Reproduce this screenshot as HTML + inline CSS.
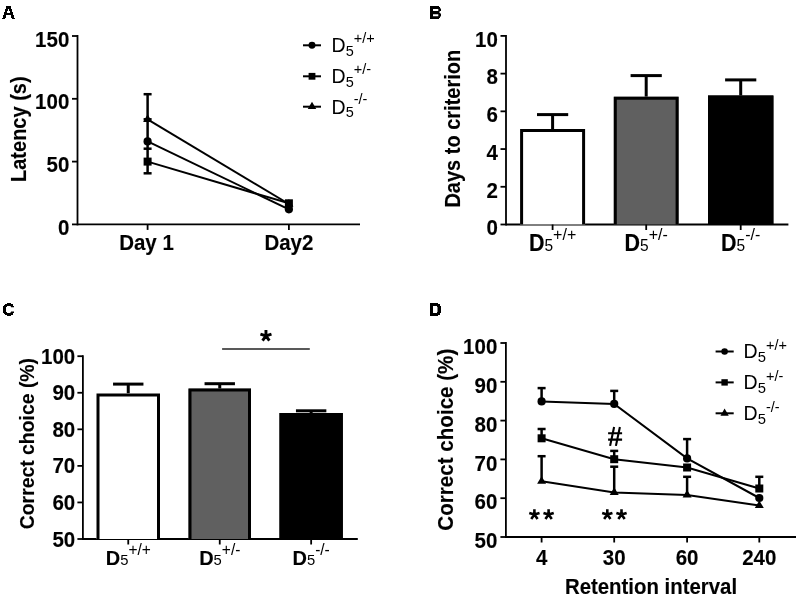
<!DOCTYPE html><html><head><meta charset="utf-8"><style>html,body{margin:0;padding:0;background:#fff;width:800px;height:597px;overflow:hidden}svg{display:block;will-change:transform}</style></head><body>
<svg width="800" height="597" viewBox="0 0 800 597">
<path fill="#000" fill-rule="evenodd" transform="translate(2,6)" d="M4,0H9V3H10V6H11V9H12V12H13V13H10V12H9V9H4V12H3V13H0V12H1V9H2V6H3V3H4Z M6,3H7V5H8V7H5V5H6Z"/>
<path fill="#000" fill-rule="evenodd" transform="translate(430,6)" d="M0,0H9V1H10V2.5H11V5H10V5.5H9.3V6.8H10V7.5H11V10.5H10V12H9V13H0Z M3,3H8.3V5H3Z M3,8.3H8.3V10.3H3Z"/>
<path fill="#000" fill-rule="evenodd" transform="translate(3,303)" d="M4,0H8V1H10V3H11V4.3H8V3.3H7V3H4V4H3V9H4V10H7V9.6H8V8.6H11V10H10V12H8V13H4V12H2V11H1V10H0V3H1V2H2V1H4Z"/>
<path fill="#000" fill-rule="evenodd" transform="translate(430,303)" d="M0,0H8V1H10V3H11V10H10V12H8V13H0Z M3,3H7V4H7.5V9H7V10H3Z"/>
<line x1="77.50" y1="35.00" x2="77.50" y2="225.40" stroke="#000" stroke-width="1.8"/>
<line x1="72.00" y1="224.40" x2="77.50" y2="224.40" stroke="#000" stroke-width="1.8"/>
<text transform="translate(69.30,235.00) scale(1,1.07)" font-family="Liberation Sans" font-weight="bold" font-size="20.5" text-anchor="end" stroke="#000" stroke-width="0.12">0</text>
<line x1="72.00" y1="161.60" x2="77.50" y2="161.60" stroke="#000" stroke-width="1.8"/>
<text transform="translate(69.30,172.20) scale(1,1.07)" font-family="Liberation Sans" font-weight="bold" font-size="20.5" text-anchor="end" stroke="#000" stroke-width="0.12">50</text>
<line x1="72.00" y1="98.80" x2="77.50" y2="98.80" stroke="#000" stroke-width="1.8"/>
<text transform="translate(69.30,109.40) scale(1,1.07)" font-family="Liberation Sans" font-weight="bold" font-size="20.5" text-anchor="end" stroke="#000" stroke-width="0.12">100</text>
<line x1="72.00" y1="36.00" x2="77.50" y2="36.00" stroke="#000" stroke-width="1.8"/>
<text transform="translate(69.30,46.60) scale(1,1.07)" font-family="Liberation Sans" font-weight="bold" font-size="20.5" text-anchor="end" stroke="#000" stroke-width="0.12">150</text>
<line x1="77.50" y1="224.40" x2="360.00" y2="224.40" stroke="#000" stroke-width="1.8"/>
<line x1="147.60" y1="224.40" x2="147.60" y2="229.90" stroke="#000" stroke-width="1.8"/>
<line x1="288.90" y1="224.40" x2="288.90" y2="229.90" stroke="#000" stroke-width="1.8"/>
<text transform="translate(146.50,250.40) scale(1,1.07)" font-family="Liberation Sans" font-weight="bold" font-size="20.5" text-anchor="middle" stroke="#000" stroke-width="0.12">Day 1</text>
<text transform="translate(288.90,250.40) scale(1,1.07)" font-family="Liberation Sans" font-weight="bold" font-size="20.5" text-anchor="middle" stroke="#000" stroke-width="0.12">Day2</text>
<text transform="translate(26.00,129.20) rotate(-90) scale(1,1.07)" font-family="Liberation Sans" font-weight="bold" font-size="20" text-anchor="middle" stroke="#000" stroke-width="0.12">Latency (s)</text>
<line x1="147.60" y1="119.40" x2="288.90" y2="204.00" stroke="#000" stroke-width="2"/>
<line x1="147.60" y1="141.40" x2="288.90" y2="209.30" stroke="#000" stroke-width="2"/>
<line x1="147.60" y1="161.60" x2="288.90" y2="203.30" stroke="#000" stroke-width="2"/>
<line x1="147.60" y1="94.20" x2="147.60" y2="173.30" stroke="#000" stroke-width="2.5"/>
<line x1="143.60" y1="94.20" x2="151.60" y2="94.20" stroke="#000" stroke-width="2.5"/>
<line x1="143.60" y1="148.70" x2="151.60" y2="148.70" stroke="#000" stroke-width="2.5"/>
<line x1="143.60" y1="173.30" x2="151.60" y2="173.30" stroke="#000" stroke-width="2.5"/>
<line x1="143.60" y1="119.30" x2="151.60" y2="119.30" stroke="#000" stroke-width="2.5"/>
<polygon points="143.10,121.95 152.10,121.95 147.60,114.30" fill="#000"/>
<polygon points="284.40,206.55 293.40,206.55 288.90,198.90" fill="#000"/>
<circle cx="147.60" cy="141.40" r="4.1" fill="#000"/>
<circle cx="288.90" cy="209.30" r="4.1" fill="#000"/>
<rect x="143.60" y="157.60" width="8.0" height="8.0" fill="#000"/>
<rect x="284.90" y="199.30" width="8.0" height="8.0" fill="#000"/>
<line x1="303.00" y1="45.30" x2="321.00" y2="45.30" stroke="#000" stroke-width="2"/>
<circle cx="312.00" cy="45.30" r="3.4849999999999994" fill="#000"/>
<text transform="translate(331.60,52.10) scale(1,1.02)" font-family="Liberation Sans" font-size="19.5">D<tspan font-weight="normal" stroke-width="0" font-size="14.5" dy="3.4">5</tspan><tspan font-weight="normal" stroke-width="0" font-size="14.5" dy="-12.4">+/+</tspan></text>
<line x1="303.00" y1="76.30" x2="321.00" y2="76.30" stroke="#000" stroke-width="2"/>
<rect x="308.60" y="72.90" width="6.8" height="6.8" fill="#000"/>
<text transform="translate(331.60,83.10) scale(1,1.02)" font-family="Liberation Sans" font-size="19.5">D<tspan font-weight="normal" stroke-width="0" font-size="14.5" dy="3.4">5</tspan><tspan font-weight="normal" stroke-width="0" font-size="14.5" dy="-12.4">+/-</tspan></text>
<line x1="303.00" y1="106.70" x2="321.00" y2="106.70" stroke="#000" stroke-width="2"/>
<polygon points="307.73,109.12 316.27,109.12 312.00,101.86" fill="#000"/>
<text transform="translate(331.60,113.50) scale(1,1.02)" font-family="Liberation Sans" font-size="19.5">D<tspan font-weight="normal" stroke-width="0" font-size="14.5" dy="3.4">5</tspan><tspan font-weight="normal" stroke-width="0" font-size="14.5" dy="-12.4">-/-</tspan></text>
<line x1="506.00" y1="34.90" x2="506.00" y2="225.50" stroke="#000" stroke-width="1.8"/>
<line x1="500.50" y1="224.50" x2="506.00" y2="224.50" stroke="#000" stroke-width="1.8"/>
<text transform="translate(497.80,235.30) scale(1,1.07)" font-family="Liberation Sans" font-weight="bold" font-size="20.5" text-anchor="end" stroke="#000" stroke-width="0.12">0</text>
<line x1="500.50" y1="186.78" x2="506.00" y2="186.78" stroke="#000" stroke-width="1.8"/>
<text transform="translate(497.80,197.58) scale(1,1.07)" font-family="Liberation Sans" font-weight="bold" font-size="20.5" text-anchor="end" stroke="#000" stroke-width="0.12">2</text>
<line x1="500.50" y1="149.06" x2="506.00" y2="149.06" stroke="#000" stroke-width="1.8"/>
<text transform="translate(497.80,159.86) scale(1,1.07)" font-family="Liberation Sans" font-weight="bold" font-size="20.5" text-anchor="end" stroke="#000" stroke-width="0.12">4</text>
<line x1="500.50" y1="111.34" x2="506.00" y2="111.34" stroke="#000" stroke-width="1.8"/>
<text transform="translate(497.80,122.14) scale(1,1.07)" font-family="Liberation Sans" font-weight="bold" font-size="20.5" text-anchor="end" stroke="#000" stroke-width="0.12">6</text>
<line x1="500.50" y1="73.62" x2="506.00" y2="73.62" stroke="#000" stroke-width="1.8"/>
<text transform="translate(497.80,84.42) scale(1,1.07)" font-family="Liberation Sans" font-weight="bold" font-size="20.5" text-anchor="end" stroke="#000" stroke-width="0.12">8</text>
<line x1="500.50" y1="35.90" x2="506.00" y2="35.90" stroke="#000" stroke-width="1.8"/>
<text transform="translate(497.80,46.70) scale(1,1.07)" font-family="Liberation Sans" font-weight="bold" font-size="20.5" text-anchor="end" stroke="#000" stroke-width="0.12">10</text>
<line x1="506.00" y1="224.50" x2="788.40" y2="224.50" stroke="#000" stroke-width="1.8"/>
<line x1="552.60" y1="114.60" x2="552.60" y2="129.00" stroke="#000" stroke-width="3"/>
<line x1="537.00" y1="114.60" x2="568.20" y2="114.60" stroke="#000" stroke-width="3"/>
<rect x="520.10" y="129.00" width="65.00" height="95.50" fill="#fff"/>
<path d="M521.60,224.50 V130.50 H583.60 V224.50" fill="none" stroke="#000" stroke-width="3" stroke-linejoin="miter"/>
<line x1="552.60" y1="224.50" x2="552.60" y2="230.00" stroke="#000" stroke-width="1.8"/>
<line x1="646.20" y1="75.60" x2="646.20" y2="96.70" stroke="#000" stroke-width="3"/>
<line x1="630.60" y1="75.60" x2="661.80" y2="75.60" stroke="#000" stroke-width="3"/>
<rect x="613.80" y="96.70" width="64.80" height="127.80" fill="#606060"/>
<path d="M615.30,224.50 V98.20 H677.10 V224.50" fill="none" stroke="#000" stroke-width="3" stroke-linejoin="miter"/>
<line x1="646.20" y1="224.50" x2="646.20" y2="230.00" stroke="#000" stroke-width="1.8"/>
<line x1="740.70" y1="79.90" x2="740.70" y2="95.50" stroke="#000" stroke-width="3"/>
<line x1="725.10" y1="79.90" x2="756.30" y2="79.90" stroke="#000" stroke-width="3"/>
<rect x="708.00" y="95.50" width="65.40" height="129.00" fill="#000"/>
<path d="M709.50,224.50 V97.00 H771.90 V224.50" fill="none" stroke="#000" stroke-width="3" stroke-linejoin="miter"/>
<line x1="740.70" y1="224.50" x2="740.70" y2="230.00" stroke="#000" stroke-width="1.8"/>
<text transform="translate(552.60,250.60) scale(1,1.07)" font-family="Liberation Sans" font-weight="bold" font-size="21.5" text-anchor="middle" stroke="#000" stroke-width="0.12">D<tspan font-weight="normal" stroke-width="0" font-size="15.5" dy="0">5</tspan><tspan font-weight="normal" stroke-width="0" font-size="16" dy="-9.6">+/+</tspan></text>
<text transform="translate(646.20,250.60) scale(1,1.07)" font-family="Liberation Sans" font-weight="bold" font-size="21.5" text-anchor="middle" stroke="#000" stroke-width="0.12">D<tspan font-weight="normal" stroke-width="0" font-size="15.5" dy="0">5</tspan><tspan font-weight="normal" stroke-width="0" font-size="16" dy="-9.6">+/-</tspan></text>
<text transform="translate(740.70,250.60) scale(1,1.07)" font-family="Liberation Sans" font-weight="bold" font-size="21.5" text-anchor="middle" stroke="#000" stroke-width="0.12">D<tspan font-weight="normal" stroke-width="0" font-size="15.5" dy="0">5</tspan><tspan font-weight="normal" stroke-width="0" font-size="16" dy="-9.6">-/-</tspan></text>
<text transform="translate(460.00,128.70) rotate(-90) scale(1,1.07)" font-family="Liberation Sans" font-weight="bold" font-size="20" text-anchor="middle" stroke="#000" stroke-width="0.12">Days to criterion</text>
<line x1="82.90" y1="355.20" x2="82.90" y2="540.00" stroke="#000" stroke-width="1.8"/>
<line x1="77.40" y1="539.00" x2="82.90" y2="539.00" stroke="#000" stroke-width="1.8"/>
<text transform="translate(75.20,546.50) scale(1,1.07)" font-family="Liberation Sans" font-weight="bold" font-size="20.5" text-anchor="end" stroke="#000" stroke-width="0.12">50</text>
<line x1="77.40" y1="502.44" x2="82.90" y2="502.44" stroke="#000" stroke-width="1.8"/>
<text transform="translate(75.20,509.94) scale(1,1.07)" font-family="Liberation Sans" font-weight="bold" font-size="20.5" text-anchor="end" stroke="#000" stroke-width="0.12">60</text>
<line x1="77.40" y1="465.88" x2="82.90" y2="465.88" stroke="#000" stroke-width="1.8"/>
<text transform="translate(75.20,473.38) scale(1,1.07)" font-family="Liberation Sans" font-weight="bold" font-size="20.5" text-anchor="end" stroke="#000" stroke-width="0.12">70</text>
<line x1="77.40" y1="429.32" x2="82.90" y2="429.32" stroke="#000" stroke-width="1.8"/>
<text transform="translate(75.20,436.82) scale(1,1.07)" font-family="Liberation Sans" font-weight="bold" font-size="20.5" text-anchor="end" stroke="#000" stroke-width="0.12">80</text>
<line x1="77.40" y1="392.76" x2="82.90" y2="392.76" stroke="#000" stroke-width="1.8"/>
<text transform="translate(75.20,400.26) scale(1,1.07)" font-family="Liberation Sans" font-weight="bold" font-size="20.5" text-anchor="end" stroke="#000" stroke-width="0.12">90</text>
<line x1="77.40" y1="356.20" x2="82.90" y2="356.20" stroke="#000" stroke-width="1.8"/>
<text transform="translate(75.20,363.70) scale(1,1.07)" font-family="Liberation Sans" font-weight="bold" font-size="20.5" text-anchor="end" stroke="#000" stroke-width="0.12">100</text>
<line x1="82.90" y1="539.00" x2="357.80" y2="539.00" stroke="#000" stroke-width="1.8"/>
<line x1="128.25" y1="384.10" x2="128.25" y2="393.50" stroke="#000" stroke-width="3"/>
<line x1="113.05" y1="384.10" x2="143.45" y2="384.10" stroke="#000" stroke-width="3"/>
<rect x="96.50" y="393.50" width="63.50" height="145.50" fill="#fff"/>
<path d="M98.00,539.00 V395.00 H158.50 V539.00" fill="none" stroke="#000" stroke-width="3" stroke-linejoin="miter"/>
<line x1="128.25" y1="539.00" x2="128.25" y2="544.50" stroke="#000" stroke-width="1.8"/>
<line x1="219.75" y1="383.70" x2="219.75" y2="388.60" stroke="#000" stroke-width="3"/>
<line x1="204.55" y1="383.70" x2="234.95" y2="383.70" stroke="#000" stroke-width="3"/>
<rect x="188.50" y="388.60" width="62.50" height="150.40" fill="#606060"/>
<path d="M190.00,539.00 V390.10 H249.50 V539.00" fill="none" stroke="#000" stroke-width="3" stroke-linejoin="miter"/>
<line x1="219.75" y1="539.00" x2="219.75" y2="544.50" stroke="#000" stroke-width="1.8"/>
<line x1="311.15" y1="410.80" x2="311.15" y2="413.00" stroke="#000" stroke-width="3"/>
<line x1="295.95" y1="410.80" x2="326.35" y2="410.80" stroke="#000" stroke-width="3"/>
<rect x="279.50" y="413.00" width="63.30" height="126.00" fill="#000"/>
<path d="M281.00,539.00 V414.50 H341.30 V539.00" fill="none" stroke="#000" stroke-width="3" stroke-linejoin="miter"/>
<line x1="311.15" y1="539.00" x2="311.15" y2="544.50" stroke="#000" stroke-width="1.8"/>
<text transform="translate(128.25,564.80) scale(1,1.04)" font-family="Liberation Sans" font-weight="bold" font-size="20" text-anchor="middle" stroke="#000" stroke-width="0.12">D<tspan font-weight="normal" stroke-width="0" font-size="14.8" dy="0">5</tspan><tspan font-weight="normal" stroke-width="0" font-size="15.5" dy="-9.2">+/+</tspan></text>
<text transform="translate(219.75,564.80) scale(1,1.04)" font-family="Liberation Sans" font-weight="bold" font-size="20" text-anchor="middle" stroke="#000" stroke-width="0.12">D<tspan font-weight="normal" stroke-width="0" font-size="14.8" dy="0">5</tspan><tspan font-weight="normal" stroke-width="0" font-size="15.5" dy="-9.2">+/-</tspan></text>
<text transform="translate(311.15,564.80) scale(1,1.04)" font-family="Liberation Sans" font-weight="bold" font-size="20" text-anchor="middle" stroke="#000" stroke-width="0.12">D<tspan font-weight="normal" stroke-width="0" font-size="14.8" dy="0">5</tspan><tspan font-weight="normal" stroke-width="0" font-size="15.5" dy="-9.2">-/-</tspan></text>
<line x1="222.10" y1="349.00" x2="309.80" y2="349.00" stroke="#222" stroke-width="1.7"/>
<path d="M265.95,335.90 L265.95,330.10 M265.95,335.90 L271.47,334.11 M265.95,335.90 L269.36,340.59 M265.95,335.90 L262.54,340.59 M265.95,335.90 L260.43,334.11" stroke="#000" stroke-width="2.9" stroke-linecap="butt" fill="none"/>
<text transform="translate(34.40,443.60) rotate(-90) scale(1,1.04)" font-family="Liberation Sans" font-weight="bold" font-size="19.4" text-anchor="middle" stroke="#000" stroke-width="0.12">Correct choice (%)</text>
<line x1="505.90" y1="342.00" x2="505.90" y2="538.00" stroke="#000" stroke-width="1.8"/>
<line x1="500.40" y1="537.00" x2="505.90" y2="537.00" stroke="#000" stroke-width="1.8"/>
<text transform="translate(497.30,548.20) scale(1,1.07)" font-family="Liberation Sans" font-weight="bold" font-size="20.5" text-anchor="end" stroke="#000" stroke-width="0.12">50</text>
<line x1="500.40" y1="498.20" x2="505.90" y2="498.20" stroke="#000" stroke-width="1.8"/>
<text transform="translate(497.30,509.40) scale(1,1.07)" font-family="Liberation Sans" font-weight="bold" font-size="20.5" text-anchor="end" stroke="#000" stroke-width="0.12">60</text>
<line x1="500.40" y1="459.40" x2="505.90" y2="459.40" stroke="#000" stroke-width="1.8"/>
<text transform="translate(497.30,470.60) scale(1,1.07)" font-family="Liberation Sans" font-weight="bold" font-size="20.5" text-anchor="end" stroke="#000" stroke-width="0.12">70</text>
<line x1="500.40" y1="420.60" x2="505.90" y2="420.60" stroke="#000" stroke-width="1.8"/>
<text transform="translate(497.30,431.80) scale(1,1.07)" font-family="Liberation Sans" font-weight="bold" font-size="20.5" text-anchor="end" stroke="#000" stroke-width="0.12">80</text>
<line x1="500.40" y1="381.80" x2="505.90" y2="381.80" stroke="#000" stroke-width="1.8"/>
<text transform="translate(497.30,393.00) scale(1,1.07)" font-family="Liberation Sans" font-weight="bold" font-size="20.5" text-anchor="end" stroke="#000" stroke-width="0.12">90</text>
<line x1="500.40" y1="343.00" x2="505.90" y2="343.00" stroke="#000" stroke-width="1.8"/>
<text transform="translate(497.30,354.20) scale(1,1.07)" font-family="Liberation Sans" font-weight="bold" font-size="20.5" text-anchor="end" stroke="#000" stroke-width="0.12">100</text>
<line x1="505.90" y1="537.00" x2="796.00" y2="537.00" stroke="#000" stroke-width="1.8"/>
<line x1="541.60" y1="537.00" x2="541.60" y2="542.50" stroke="#000" stroke-width="1.8"/>
<text transform="translate(541.60,564.80) scale(1,1.07)" font-family="Liberation Sans" font-weight="bold" font-size="20.5" text-anchor="middle" stroke="#000" stroke-width="0.12">4</text>
<line x1="614.20" y1="537.00" x2="614.20" y2="542.50" stroke="#000" stroke-width="1.8"/>
<text transform="translate(614.20,564.80) scale(1,1.07)" font-family="Liberation Sans" font-weight="bold" font-size="20.5" text-anchor="middle" stroke="#000" stroke-width="0.12">30</text>
<line x1="687.10" y1="537.00" x2="687.10" y2="542.50" stroke="#000" stroke-width="1.8"/>
<text transform="translate(687.10,564.80) scale(1,1.07)" font-family="Liberation Sans" font-weight="bold" font-size="20.5" text-anchor="middle" stroke="#000" stroke-width="0.12">60</text>
<line x1="759.30" y1="537.00" x2="759.30" y2="542.50" stroke="#000" stroke-width="1.8"/>
<text transform="translate(759.30,564.80) scale(1,1.07)" font-family="Liberation Sans" font-weight="bold" font-size="20.5" text-anchor="middle" stroke="#000" stroke-width="0.12">240</text>
<text transform="translate(651.00,593.60) scale(1,1.07)" font-family="Liberation Sans" font-weight="bold" font-size="20.4" text-anchor="middle" stroke="#000" stroke-width="0.12">Retention interval</text>
<text transform="translate(452.60,439.70) rotate(-90) scale(1,1.07)" font-family="Liberation Sans" font-weight="bold" font-size="20.6" text-anchor="middle" stroke="#000" stroke-width="0.12">Correct choice (%)</text>
<polyline points="541.60,401.40 614.20,403.90 687.10,458.40 759.30,498.00" fill="none" stroke="#000" stroke-width="2"/>
<polyline points="541.60,438.30 614.20,459.20 687.10,467.50 759.30,488.50" fill="none" stroke="#000" stroke-width="2"/>
<polyline points="541.60,481.30 614.20,492.40 687.10,494.90 759.30,505.50" fill="none" stroke="#000" stroke-width="2"/>
<line x1="541.60" y1="388.10" x2="541.60" y2="401.40" stroke="#000" stroke-width="2.5"/>
<line x1="537.60" y1="388.10" x2="545.60" y2="388.10" stroke="#000" stroke-width="2.5"/>
<line x1="614.20" y1="390.90" x2="614.20" y2="403.90" stroke="#000" stroke-width="2.5"/>
<line x1="610.20" y1="390.90" x2="618.20" y2="390.90" stroke="#000" stroke-width="2.5"/>
<line x1="687.10" y1="439.10" x2="687.10" y2="458.40" stroke="#000" stroke-width="2.5"/>
<line x1="683.10" y1="439.10" x2="691.10" y2="439.10" stroke="#000" stroke-width="2.5"/>
<line x1="541.60" y1="429.00" x2="541.60" y2="438.30" stroke="#000" stroke-width="2.5"/>
<line x1="537.60" y1="429.00" x2="545.60" y2="429.00" stroke="#000" stroke-width="2.5"/>
<line x1="614.20" y1="450.90" x2="614.20" y2="459.20" stroke="#000" stroke-width="2.5"/>
<line x1="610.20" y1="450.90" x2="618.20" y2="450.90" stroke="#000" stroke-width="2.5"/>
<line x1="759.30" y1="476.80" x2="759.30" y2="488.50" stroke="#000" stroke-width="2.5"/>
<line x1="755.30" y1="476.80" x2="763.30" y2="476.80" stroke="#000" stroke-width="2.5"/>
<line x1="541.60" y1="456.20" x2="541.60" y2="481.30" stroke="#000" stroke-width="2.5"/>
<line x1="537.60" y1="456.20" x2="545.60" y2="456.20" stroke="#000" stroke-width="2.5"/>
<line x1="614.20" y1="466.70" x2="614.20" y2="492.40" stroke="#000" stroke-width="2.5"/>
<line x1="610.20" y1="466.70" x2="618.20" y2="466.70" stroke="#000" stroke-width="2.5"/>
<line x1="687.10" y1="476.80" x2="687.10" y2="494.90" stroke="#000" stroke-width="2.5"/>
<line x1="683.10" y1="476.80" x2="691.10" y2="476.80" stroke="#000" stroke-width="2.5"/>
<circle cx="541.60" cy="401.40" r="4.1" fill="#000"/>
<circle cx="614.20" cy="403.90" r="4.1" fill="#000"/>
<circle cx="687.10" cy="458.40" r="4.1" fill="#000"/>
<circle cx="759.30" cy="498.00" r="4.1" fill="#000"/>
<rect x="537.60" y="434.30" width="8.0" height="8.0" fill="#000"/>
<rect x="610.20" y="455.20" width="8.0" height="8.0" fill="#000"/>
<rect x="683.10" y="463.50" width="8.0" height="8.0" fill="#000"/>
<rect x="755.30" y="484.50" width="8.0" height="8.0" fill="#000"/>
<polygon points="537.10,483.85 546.10,483.85 541.60,476.20" fill="#000"/>
<polygon points="609.70,494.95 618.70,494.95 614.20,487.30" fill="#000"/>
<polygon points="682.60,497.45 691.60,497.45 687.10,489.80" fill="#000"/>
<polygon points="754.80,508.05 763.80,508.05 759.30,500.40" fill="#000"/>
<line x1="715.60" y1="351.50" x2="733.70" y2="351.50" stroke="#000" stroke-width="2"/>
<circle cx="724.60" cy="351.50" r="3.28" fill="#000"/>
<text transform="translate(743.60,357.90) scale(1,1.0)" font-family="Liberation Sans" font-size="19.5">D<tspan font-weight="normal" stroke-width="0" font-size="14.8" dy="3.8">5</tspan><tspan font-weight="normal" stroke-width="0" font-size="14.5" dy="-11.8">+/+</tspan></text>
<line x1="715.60" y1="382.40" x2="733.70" y2="382.40" stroke="#000" stroke-width="2"/>
<rect x="721.40" y="379.20" width="6.4" height="6.4" fill="#000"/>
<text transform="translate(743.60,388.80) scale(1,1.0)" font-family="Liberation Sans" font-size="19.5">D<tspan font-weight="normal" stroke-width="0" font-size="14.8" dy="3.8">5</tspan><tspan font-weight="normal" stroke-width="0" font-size="14.5" dy="-11.8">+/-</tspan></text>
<line x1="715.60" y1="413.30" x2="733.70" y2="413.30" stroke="#000" stroke-width="2"/>
<polygon points="720.46,415.65 728.74,415.65 724.60,408.61" fill="#000"/>
<text transform="translate(743.60,419.70) scale(1,1.0)" font-family="Liberation Sans" font-size="19.5">D<tspan font-weight="normal" stroke-width="0" font-size="14.8" dy="3.8">5</tspan><tspan font-weight="normal" stroke-width="0" font-size="14.5" dy="-11.8">-/-</tspan></text>
<path d="M614.1,427 L610.1,445.9 M619.9,427 L615.9,445.9 M608.1,433.3 H622.1 M608.1,439.6 H622.1" stroke="#000" stroke-width="2.1" fill="none"/>
<path d="M534.40,514.60 L534.40,509.20 M534.40,514.60 L539.54,512.93 M534.40,514.60 L537.57,518.97 M534.40,514.60 L531.23,518.97 M534.40,514.60 L529.26,512.93" stroke="#000" stroke-width="2.6" stroke-linecap="butt" fill="none"/>
<path d="M548.60,514.60 L548.60,509.20 M548.60,514.60 L553.74,512.93 M548.60,514.60 L551.77,518.97 M548.60,514.60 L545.43,518.97 M548.60,514.60 L543.46,512.93" stroke="#000" stroke-width="2.6" stroke-linecap="butt" fill="none"/>
<path d="M607.30,514.60 L607.30,509.20 M607.30,514.60 L612.44,512.93 M607.30,514.60 L610.47,518.97 M607.30,514.60 L604.13,518.97 M607.30,514.60 L602.16,512.93" stroke="#000" stroke-width="2.6" stroke-linecap="butt" fill="none"/>
<path d="M621.50,514.60 L621.50,509.20 M621.50,514.60 L626.64,512.93 M621.50,514.60 L624.67,518.97 M621.50,514.60 L618.33,518.97 M621.50,514.60 L616.36,512.93" stroke="#000" stroke-width="2.6" stroke-linecap="butt" fill="none"/>
</svg></body></html>
